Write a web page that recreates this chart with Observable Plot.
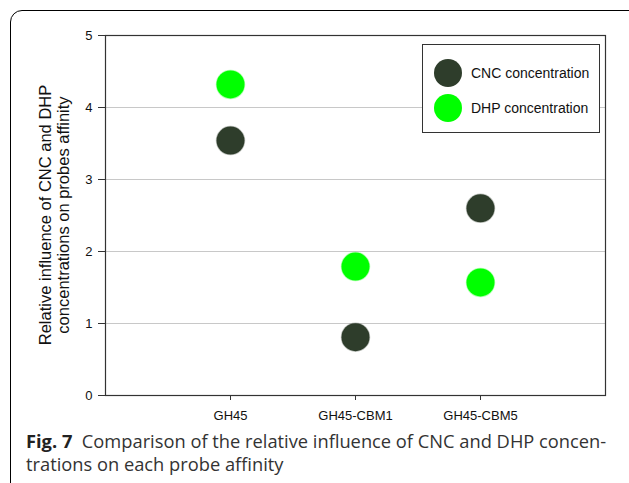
<!DOCTYPE html>
<html>
<head>
<meta charset="utf-8">
<script src="https://cdn.jsdelivr.net/npm/d3@7"></script>
<script src="https://cdn.jsdelivr.net/npm/@observablehq/plot@0.6"></script>
<style>
  html, body { margin: 0; padding: 0; background: #fff; }
  body { width: 629px; height: 483px; position: relative; overflow: hidden; }
  #border { position: absolute; left: 10px; top: 10px; width: 640px; height: 520px;
            border: 1.2px solid #000; border-radius: 12px; box-sizing: border-box; }
  #chart { position: absolute; left: 0; top: 0; }
  #ytitle { position: absolute; left: 54px; top: 215px; transform: translate(-50%, -50%) rotate(-90deg);
            font-family: Arial, "Liberation Sans", sans-serif; font-size: 16.5px; line-height: 18px;
            text-align: center; white-space: nowrap; color: #111; }
  #legend { position: absolute; left: 422px; top: 44px; width: 178px; height: 89px;
            border: 1px solid #333; background: #fff; box-sizing: border-box; }
  .li { position: absolute; left: 0; font-family: Arial, "Liberation Sans", sans-serif; font-size: 14px; color: #111; white-space: nowrap; }
  .sw { position: absolute; width: 28px; height: 28px; border-radius: 50%; left: 11px; }
  .lt { position: absolute; left: 48px; }
  #caption { position: absolute; left: 26px; top: 429px; width: 600px;
             font-family: "Open Sans", "Noto Sans", sans-serif; font-size: 18.3px; line-height: 23px; color: #333; white-space: nowrap; }
  #caption b { color: #222; }
</style>
</head>
<body>
<div id="border"></div>
<div id="chart"></div>
<div id="ytitle"></div>
<div id="legend"></div>
<div id="caption"></div>
<script>
const categories = ["GH45", "GH45-CBM1", "GH45-CBM5"];
const cncValues = [3.54, 0.81, 2.60];
const dhpValues = [4.32, 1.79, 1.57];
const seriesNames = ["CNC concentration", "DHP concentration"];
const seriesColors = ["#2e3d2b", "#00ff00"];
const yTicks = [0, 1, 2, 3, 4, 5];
const gridTicks = [1, 2, 3, 4];
const yTitleLines = ["Relative influence of CNC and DHP", "concentrations on probes affinity"];
const captionLabel = "Fig. 7";
const captionText = ["Comparison of the relative influence of CNC and DHP concen-", "trations on each probe affinity"];

const data = [];
categories.forEach((c, i) => {
  data.push({cat: c, series: seriesNames[0], value: cncValues[i]});
  data.push({cat: c, series: seriesNames[1], value: dhpValues[i]});
});

const chart = Plot.plot({
  width: 629,
  height: 425,
  marginLeft: 105,
  marginRight: 24,
  marginTop: 35,
  marginBottom: 30,
  style: {fontFamily: "Arial, 'Liberation Sans', sans-serif", fontSize: "13px", color: "#111", background: "transparent"},
  x: {type: "point", domain: categories, padding: 1, label: null},
  y: {domain: [0, 5], label: null},
  color: {domain: seriesNames, range: seriesColors},
  marks: [
    Plot.gridY(gridTicks, {stroke: "#c8c8c8", strokeOpacity: 1, strokeWidth: 1}),
    Plot.frame({stroke: "#333", strokeWidth: 1.2}),
    Plot.axisY({ticks: yTicks, tickFormat: d3.format("d"), tickSize: 7, tickPadding: 6, stroke: "#333", label: null}),
    Plot.axisX({tickSize: 5, tickPadding: 10, stroke: "#333", label: null}),
    Plot.dot(data, {x: "cat", y: "value", fill: "series", r: 14, stroke: "series", strokeOpacity: 0.3})
  ]
});
document.getElementById("chart").appendChild(chart);

document.getElementById("ytitle").innerHTML = yTitleLines.join("<br>");

const legend = document.getElementById("legend");
seriesNames.forEach((name, i) => {
  const row = document.createElement("div");
  row.className = "li";
  row.style.top = (14 + i * 35) + "px";
  row.innerHTML = `<div class="sw" style="background:${seriesColors[i]};top:0"></div><div class="lt" style="top:6px">${name}</div>`;
  legend.appendChild(row);
});

document.getElementById("caption").innerHTML =
  `<b>${captionLabel}</b>&nbsp; ${captionText[0]}<br>${captionText[1]}`;
</script>
</body>
</html>
